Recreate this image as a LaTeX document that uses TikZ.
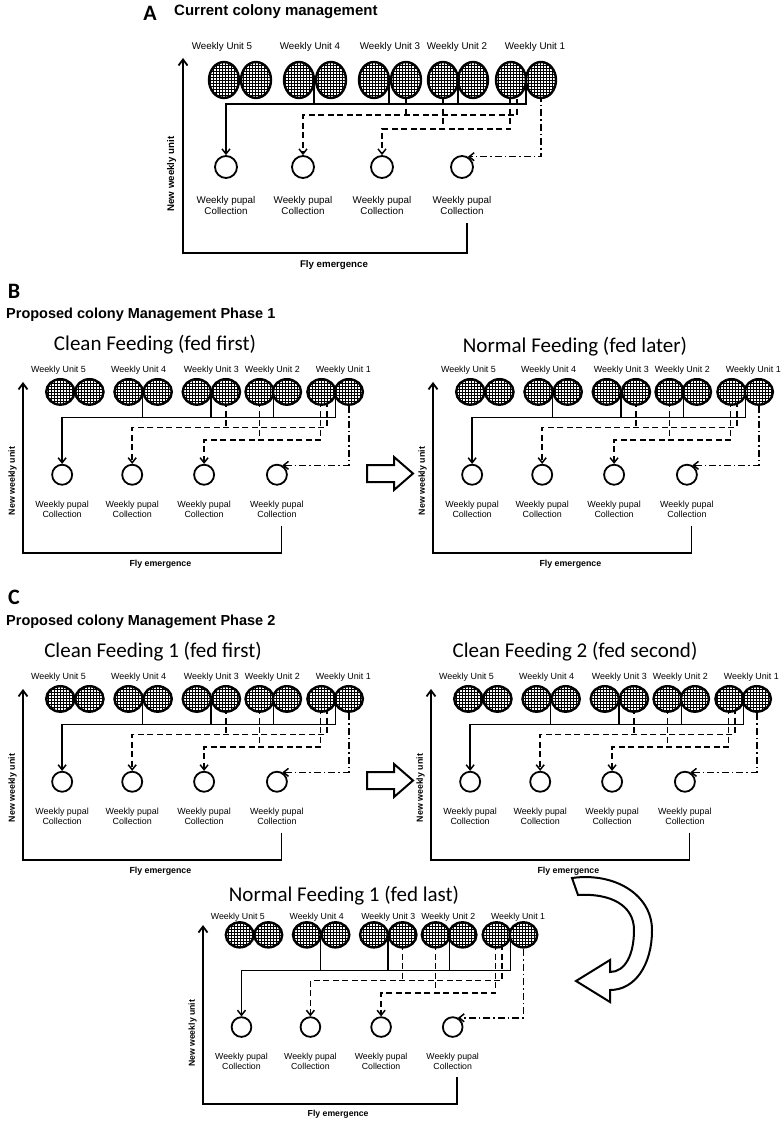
\documentclass[tikz,border=0pt]{standalone}
\usepackage{fontspec}
\setmainfont{Liberation Sans}
\newfontfamily\calib{Carlito}
\usetikzlibrary{arrows.meta,shapes.geometric,patterns,backgrounds}
\tikzset{
  unitc/.style={ellipse, draw, line width=2.4pt, pattern=grid, preaction={fill=white}, inner sep=0pt, outer sep=0pt},
  coll/.style={circle, draw, line width=1.8pt, minimum size=22pt, inner sep=0pt, fill=white},
  clab/.style={align=center, font=\fontsize{9.8}{11}\selectfont, inner sep=0pt},
  ulab/.style={font=\fontsize{9.8}{11}\selectfont, inner sep=0pt},
  blab/.style={font=\bfseries\fontsize{9.7}{11}\selectfont, inner sep=0pt},
  frame/.style={line width=1.8pt},
  solidc/.style={line width=1.5pt},
  dashc/.style={line width=1.5pt, dash pattern=on 6pt off 3.5pt},
  ddc/.style={line width=1.5pt, dash pattern=on 7pt off 3pt on 1.5pt off 3pt},
  arr/.style={-{Straight Barb[length=5pt,width=8pt,line width=1.5pt]}},
  farr/.style={-{Straight Barb[length=6pt,width=9pt,line width=1.8pt]}},
  blk/.style={draw, line width=2pt, fill=white, line join=miter},
  letter/.style={font=\calib\bfseries\fontsize{22}{24}\selectfont, inner sep=0pt},
  ptitle/.style={anchor=west, font=\bfseries\fontsize{14.5}{17}\selectfont, inner sep=0pt},
  ftitle/.style={font=\calib\fontsize{21}{24}\selectfont, inner sep=0pt},
}
% #1 name, #2 x0, #3 y0, #4 scale, #5 label y, #6 circle y, #7 rx, #8 ry, #9 arrow top
\newcommand\colonypanel[9]{%
\begin{scope}[shift={(#2,#3)},scale=#4,transform shape]
  \coordinate (#1-o) at (0,0);
  \coordinate (#1-top) at (0,#9);
  \coordinate (#1-r) at (284,-30);
  \coordinate (#1-sy) at (0,-149);
  \coordinate (#1-d1y) at (0,-138);
  \coordinate (#1-d2y) at (0,-124);
  % unit labels
  \node[ulab] (#1-t5) at (39,#5) {Weekly Unit 5};
  \node[ulab] (#1-t4) at (127,#5) {Weekly Unit 4};
  \node[ulab] (#1-t3) at (207,#5) {Weekly Unit 3};
  \node[ulab] (#1-t2) at (274,#5) {Weekly Unit 2};
  \node[ulab] (#1-t1) at (352,#5) {Weekly Unit 1};
  % unit circles
  \foreach \n/\xa/\xb in {5/41/73,4/116/148,3/191/223,2/260/290,1/328/358}{
    \node[unitc, minimum width=2*#7 pt, minimum height=2*#8 pt] (#1-u\n l) at (\xa,#6) {};
    \node[unitc, minimum width=2*#7 pt, minimum height=2*#8 pt] (#1-u\n r) at (\xb,#6) {};
  }
  % collection circles and labels
  \foreach \i/\x in {1/43,2/120,3/199,4/279}{
    \node[coll] (#1-c\i) at (\x,-86) {};
    \node[clab] (#1-l\i) at (\x,-47.5) {Weekly pupal\\Collection};
  }
  \node[blab] (#1-fe) at (151,12) {Fly emergence};
  \node[blab, rotate=90] (#1-nw) at (-11.5,-79) {New weekly unit};
  \begin{scope}[on background layer]
    % frame
    \draw[frame,farr] (#1-r) |- (#1-o) -- (#1-top);
    % solid
    \draw[solidc] (#1-u4l.east) -- (#1-u4l.east |- #1-sy);
    \draw[solidc] (#1-u3l.east) -- (#1-u3l.east |- #1-sy);
    \draw[solidc] (#1-u2l.east) -- (#1-u2l.east |- #1-sy);
    \draw[solidc,arr] (#1-u1l.east) |- (#1-c1 |- #1-sy) -- (#1-c1.north);
    % dashed 1
    \draw[dashc] (#1-u3r.center) -- (#1-u3r.center |- #1-d1y);
    \draw[dashc,arr] ([xshift=6pt]#1-u1l.center) |- (#1-c2 |- #1-d1y) -- (#1-c2.north);
    % dashed 2
    \draw[dashc] (#1-u2l.center) -- (#1-u2l.center |- #1-d2y);
    \draw[dashc,arr] ([xshift=-1pt]#1-u1l.center) |- (#1-c3 |- #1-d2y) -- (#1-c3.north);
    % dash-dot
    \draw[ddc,arr] (#1-u1r.center) |- (#1-c4.60);
  \end{scope}
\end{scope}}
\begin{document}
\begin{tikzpicture}[x=1pt,y=-1pt]
\useasboundingbox (0,0) rectangle (783,1124);
% Panel A
\node[letter] (LA) at (150,13) {A};
\node[ptitle, font=\bfseries\fontsize{15}{17}\selectfont] (TA) at (174,12) {Current colony management};
\colonypanel{A}{183}{253}{1}{-206}{-173}{15}{18}{-195}
% Panel B
\node[letter] (LB) at (14,291) {B};
\node[ptitle] (TB) at (6,315) {Proposed colony Management Phase 1};
\node[ftitle] (FB1) at (155,345) {Clean Feeding (fed first)};
\node[ftitle] (FB2) at (575,347) {Normal Feeding (fed later)};
\colonypanel{BL}{23}{553}{0.91}{-201}{-177}{15.5}{14}{-188}
\colonypanel{BR}{433}{553}{0.91}{-201}{-177}{15.5}{14}{-188}
\draw[blk] (367,465) -- (394,465) -- (394,457) -- (413,473.5) -- (394,490) -- (394,482) -- (367,482) -- cycle;
% Panel C
\node[letter] (LC) at (14,597) {C};
\node[ptitle] (TC) at (6,622) {Proposed colony Management Phase 2};
\node[ftitle] (FC1) at (153,652) {Clean Feeding 1 (fed first)};
\node[ftitle] (FC2) at (575,652) {Clean Feeding 2 (fed second)};
\node[ftitle] (FC3) at (344,896) {Normal Feeding 1 (fed last)};
\colonypanel{CL}{23}{860}{0.91}{-201}{-177}{15.5}{14}{-188}
\colonypanel{CR}{431}{860}{0.91}{-201}{-177}{15.5}{14}{-188}
\colonypanel{CB}{203}{1104}{0.895}{-209}{-189}{15.5}{14}{-200}
\draw[blk] (367,772) -- (394,772) -- (394,764) -- (413,780.5) -- (394,797) -- (394,789) -- (367,789) -- cycle;
% curved arrow from Clean Feeding 2 to Normal Feeding 1
\draw[blk] (572,878) .. controls (615,872) and (652,895) .. (652,930)
  .. controls (652,965) and (635,990) .. (610,990)
  -- (610,1002) -- (576,981) -- (610,960) -- (610,972)
  .. controls (625,972) and (634,955) .. (634,930)
  .. controls (634,905) and (610,893) .. (578,895) -- cycle;
\end{tikzpicture}
\end{document}
